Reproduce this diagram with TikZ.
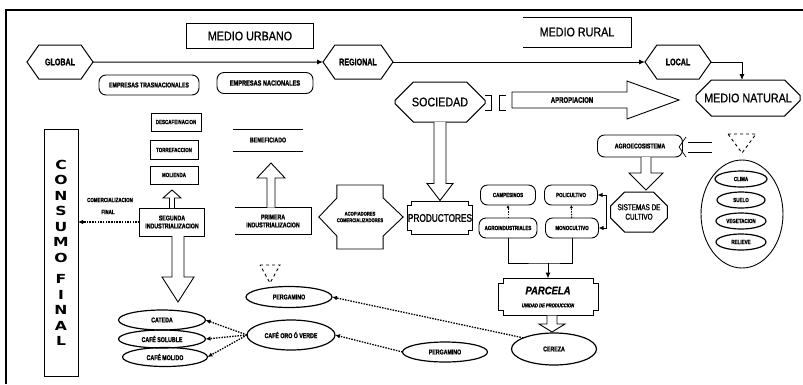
\documentclass[tikz,border=0pt]{standalone}
\usepackage{fontspec}
\setmainfont{Liberation Sans}
\newfontfamily\fcond[FakeStretch=0.75,FakeBold=1.5]{Liberation Sans}
\newfontfamily\fmed[FakeStretch=0.86,FakeBold=0.8]{Liberation Sans}
\newfontfamily\fheavy[FakeStretch=1.25]{DejaVu Sans}
\usetikzlibrary{shapes.symbols,shapes.misc,shapes.geometric,arrows.meta,calc}
\newcommand\notchframe[2]{%
\draw[line width=1pt] ([xshift=#2]#1.north west) -- ([xshift=-#2]#1.north east) -- ([xshift=-#2,yshift=-#2]#1.north east) -- ([yshift=-#2]#1.north east) -- ([yshift=#2]#1.south east) -- ([xshift=-#2,yshift=#2]#1.south east) -- ([xshift=-#2]#1.south east) -- ([xshift=#2]#1.south west) -- ([xshift=#2,yshift=#2]#1.south west) -- ([yshift=#2]#1.south west) -- ([yshift=-#2]#1.north west) -- ([xshift=#2,yshift=-#2]#1.north west) -- cycle;}
\tikzset{
 every node/.style={inner sep=0pt, outer sep=0pt},
 sm/.style={font=\fcond\bfseries\fontsize{7}{8}\selectfont, align=center},
 tny/.style={font=\fcond\bfseries\fontsize{6}{7}\selectfont, align=center},
 mid/.style={font=\fcond\bfseries\fontsize{9.5}{10}\selectfont},
 big/.style={font=\fmed\fontsize{12.5}{13}\selectfont},
 box/.style={draw, line width=0.9pt},
 rbox/.style={draw, line width=0.9pt, rounded corners=7pt},
 hexs/.style={shape=signal, signal to=east and west, signal pointer angle=110, draw, line width=1pt},
 octs/.style={chamfered rectangle, chamfered rectangle xsep=#1, chamfered rectangle ysep=#1, draw, line width=1pt},
 ell/.style={ellipse, draw, line width=1.2pt},
 blk/.style={draw, line width=0.9pt, fill=white},
 sar/.style={line width=1pt, -{Latex[length=6pt,width=5pt]}},
 dar/.style={line width=1.3pt, dash pattern=on 1.5pt off 1.2pt, -{Latex[length=5pt,width=4.5pt]}},
}
\begin{document}
\begin{tikzpicture}[x=1pt,y=1pt]
\useasboundingbox (0,0) rectangle (803,-384);
\fill[white] (0,0) rectangle (803,-384);
\draw[line width=1.2pt] (6,-384) -- (6,-10) -- (803,-10);

% top row
\node[box,big,minimum width=127pt,minimum height=25pt] (mu) at (250,-36) {MEDIO URBANO};
\node[big,minimum width=108pt,minimum height=30pt] (mr) at (577,-32) {MEDIO RURAL};
\draw[line width=0.9pt] (mr.north west) -- (mr.north east) -- (mr.south east) -- (mr.south west);
\node[hexs,mid,minimum width=66pt,minimum height=34pt] (global) at (60,-62) {GLOBAL};
\node[hexs,mid,minimum width=70pt,minimum height=34pt] (regional) at (358,-62) {REGIONAL};
\node[hexs,mid,minimum width=66pt,minimum height=34pt] (local) at (678,-62) {LOCAL};
\node[octs=11pt,big,minimum width=104pt,minimum height=36pt] (mn) at (748,-98) {MEDIO NATURAL};
\draw[sar] (global) -- (regional);
\draw[sar] (regional) -- (local);
\draw[sar] (local.east) -| ([xshift=-6pt]mn.north);

\node[rbox,sm,minimum width=100pt,minimum height=20pt] (etr) at (149,-85) {EMPRESAS TRASNACIONALES};
\node[rbox,font=\fcond\bfseries\fontsize{7.5}{8}\selectfont,minimum width=96pt,minimum height=21pt] (ena) at (265,-83) {EMPRESAS NACIONALES};

% sociedad / apropiacion
\node[octs=14pt,big,minimum width=90pt,minimum height=40pt] (soc) at (440,-102) {SOCIEDAD};
\draw[line width=0.9pt] (485,-95) -- (491,-95) -- (491,-110) -- (485,-110);
\draw[line width=0.9pt] (506,-95) -- (499,-95) -- (499,-110) -- (506,-110);
\coordinate (apS) at (512,-100);
\draw[blk] let \p1=(apS), \p2=([xshift=-17pt]mn.west) in (\x1,\y1+8pt) -- (\x2-52pt,\y1+8pt) -- (\x2-52pt,\y1+19pt) -- (\x2,\y1) -- (\x2-52pt,\y1-19pt) -- (\x2-52pt,\y1-8pt) -- (\x1,\y1-8pt) -- cycle;
\node[font=\fcond\bfseries\fontsize{8}{9}\selectfont] (apl) at (572,-100) {APROPIACION};

% productores
\node[font=\fcond\fontsize{11}{12}\selectfont,minimum width=64pt,minimum height=33pt] (prod) at (440,-218) {PRODUCTORES};
\notchframe{prod}{4pt}
\draw[blk] let \p1=(soc.south), \p2=(prod.north) in (\x1-6pt,\y1) -- (\x1-6pt,\y2+18pt) -- (\x1-13pt,\y2+18pt) -- (\x1,\y2+1pt) -- (\x1+13pt,\y2+18pt) -- (\x1+6pt,\y2+18pt) -- (\x1+6pt,\y1);

% acopiadores
\node[font=\fcond\bfseries\fontsize{5.5}{6.5}\selectfont,align=center,minimum width=44pt,minimum height=64pt] (aco) at (360,-217) {ACOPIADORES\\COMERCIALIZADORES};
\draw[line width=0.9pt] (aco.north west) -- (aco.north east) -- ([yshift=-13pt]aco.north east) -- ([xshift=20pt]aco.east) -- ([yshift=13pt]aco.south east) -- (aco.south east) -- (aco.south west) -- ([yshift=13pt]aco.south west) -- ([xshift=-18pt]aco.west) -- ([yshift=-13pt]aco.north west) -- cycle;

% primera / beneficiado
\node[sm,minimum width=77pt,minimum height=27pt] (pri) at (273,-221) {PRIMERA\\INDUSTRIALIZACION};
\draw[line width=0.9pt] (pri.north west) -- (pri.north east) -- (pri.south east) -- (pri.south west);
\node[sm,minimum width=70pt,minimum height=22pt] (ben) at (268,-140) {BENEFICIADO};
\draw[line width=0.9pt] (ben.north west) -- (ben.north east);
\draw[line width=0.9pt] (ben.south west) -- (ben.south east);
\draw[blk] let \p1=([xshift=-2pt]pri.north), \p2=([xshift=-2pt,yshift=-12pt]ben.south) in (\x1-4pt,\y1) -- (\x1-4pt,\y2-15pt) -- (\x1-14pt,\y2-15pt) -- (\x1,\y2) -- (\x1+14pt,\y2-15pt) -- (\x1+4pt,\y2-15pt) -- (\x1+4pt,\y1);

% segunda column
\node[box,sm,minimum width=65pt,minimum height=28pt] (seg) at (172,-222) {SEGUNDA\\INDUSTRIALIZACION};
\node[box,tny,minimum width=48pt,minimum height=18pt] (mol) at (174,-175) {MOLIENDA};
\node[box,tny,minimum width=48pt,minimum height=19pt] (tor) at (174,-150) {TORREFACCION};
\node[box,tny,minimum width=50pt,minimum height=18pt] (des) at (176,-122) {DESCAFEINACION};
\draw[blk] let \p1=(seg.north), \p2=([yshift=-6pt]mol.south) in (\x1-2.5pt,\y1) -- (\x1-2.5pt,\y2-8pt) -- (\x1-9pt,\y2-8pt) -- (\x1,\y2) -- (\x1+9pt,\y2-8pt) -- (\x1+2.5pt,\y2-8pt) -- (\x1+2.5pt,\y1);

% consumo final
\node[box,minimum width=34pt,minimum height=247pt,align=center,font=\fheavy\bfseries\fontsize{12.5}{15.5}\selectfont] (cons) at (61,-253) {C\\O\\N\\S\\U\\M\\O\\[6pt]F\\I\\N\\A\\L};
\node[tny] (cf1) at (110,-200) {COMERCIALIZACION};
\node[tny] (cf2) at (108,-212) {FINAL};
\draw[dar] (seg.west) -- (seg.west -| cons.east);

% coffee products
\node[ell,sm,minimum width=87pt,minimum height=20pt] (cat) at (162,-320) {CATEDA};
\node[ell,sm,minimum width=87pt,minimum height=18pt] (sol) at (162,-339) {CAFÉ SOLUBLE};
\node[ell,sm,minimum width=85pt,minimum height=19pt] (mold) at (165,-357) {CAFÉ MOLIDO};
\node[ell,sm,minimum width=88pt,minimum height=30pt] (oro) at (291,-335) {CAFÉ ORO Ó VERDE};
\node[ell,sm,minimum width=86pt,minimum height=21pt] (per1) at (289,-297) {PERGAMINO};
\node[ell,sm,minimum width=85pt,minimum height=20pt] (per2) at (445,-352) {PERGAMINO};
\node[ell,sm,minimum width=85pt,minimum height=32pt] (cer) at (554,-349) {CEREZA};
\draw[blk] let \p1=([xshift=6pt]seg.south), \p2=([yshift=8pt]cat.north) in (\x1-6pt,\y1) -- (\x1-6pt,\y2+25pt) -- (\x1-16pt,\y2+25pt) -- (\x1,\y2) -- (\x1+16pt,\y2+25pt) -- (\x1+6pt,\y2+25pt) -- (\x1+6pt,\y1);
\draw[dar] (oro.west) -- (cat.east);
\draw[dar] (oro.west) -- (sol.east);
\draw[dar] (oro.west) -- (mold.east);
\draw[dar] (per2.west) -- (oro.east);
\draw[dar] (cer.160) -- (per1.east);
\draw[dashed,line width=0.9pt] (260,-265) -- (280,-265) -- (270,-283) -- cycle;

% parcela
\node[minimum width=100pt,minimum height=37pt,align=center] (par) at (548,-297) {{\fmed\bfseries\itshape\fontsize{11}{12}\selectfont PARCELA}\\[1pt]{\fcond\bfseries\itshape\fontsize{5.5}{6}\selectfont UNIDAD DE PRODUCCION}};
\notchframe{par}{5pt}
\draw[blk] let \p1=([xshift=4pt]par.south), \p2=(cer.north) in (\x1-5pt,\y1) -- (\x1-5pt,\y2+9pt) -- (\x1-13pt,\y2+9pt) -- (\x1,\y2+1pt) -- (\x1+13pt,\y2+9pt) -- (\x1+5pt,\y2+9pt) -- (\x1+5pt,\y1);

% cultivos
\node[rbox,tny,minimum width=55pt,minimum height=20pt] (cam) at (508,-195) {CAMPESINOS};
\node[rbox,tny,minimum width=58pt,minimum height=20pt] (agi) at (508,-228) {AGROINDUSTRIALES};
\node[rbox,tny,minimum width=53pt,minimum height=20pt] (pol) at (571,-195) {POLICULTIVO};
\node[rbox,tny,minimum width=53pt,minimum height=20pt] (mon) at (572,-228) {MONOCULTIVO};
\draw[line width=0.9pt, dash pattern=on 1.5pt off 1.2pt, -{Latex[length=3pt,width=3pt]}] (agi) -- (cam);
\draw[line width=0.9pt, dash pattern=on 1.5pt off 1.2pt, -{Latex[length=3pt,width=3pt]}] (mon) -- (pol);
\coordinate (jn) at (548,-263);
\draw[line width=1pt] (agi.south) |- (jn) -| (mon.south);
\draw[sar] (jn) -- (jn |- par.north);
\node[octs=7pt,font=\fcond\fontsize{8.5}{9.5}\selectfont,align=center,minimum width=53pt,minimum height=40pt] (sis) at (639,-212) {SISTEMAS DE\\CULTIVO};
\coordinate (sj) at ([xshift=-4pt]sis.west);
\draw[line width=1pt, {Latex[length=5pt,width=4.5pt]}-{Latex[length=5pt,width=4.5pt]}] (pol.east) -| (sj) |- (mon.east);

% agroecosistema
\node[rbox,sm,minimum width=85pt,minimum height=22pt] (agro) at (640,-146) {AGROECOSISTEMA};
\draw[blk] let \p1=([xshift=6pt]agro.south), \p2=([yshift=2pt]sis.north) in (\x1-5pt,\y1) -- (\x1-5pt,\y2+17pt) -- (\x1-17pt,\y2+17pt) -- (\x1,\y2) -- (\x1+17pt,\y2+17pt) -- (\x1+5pt,\y2+17pt) -- (\x1+5pt,\y1);
\draw[line width=0.7pt] (712,-142) -- (688,-142);
\draw[line width=0.7pt] (712,-152) -- (688,-152);
\draw[line width=0.7pt] (686,-137) -- (679,-147) -- (686,-157);

% natural elements
\draw[dashed,line width=0.9pt] (728,-134) -- (756,-134) -- (742,-153) -- cycle;
\node[ell,line width=0.9pt,minimum width=82pt,minimum height=108pt] (bige) at (742,-214) {};
\node[ell,tny,minimum width=52pt,minimum height=16pt] (clima) at (741,-179) {CLIMA};
\node[ell,tny,minimum width=48pt,minimum height=16pt] (suelo) at (741,-200) {SUELO};
\node[ell,tny,minimum width=50pt,minimum height=16pt] (veg) at (741,-221) {VEGETACION};
\node[ell,tny,minimum width=50pt,minimum height=16pt] (rel) at (741,-242) {RELIEVE};
\end{tikzpicture}
\end{document}
